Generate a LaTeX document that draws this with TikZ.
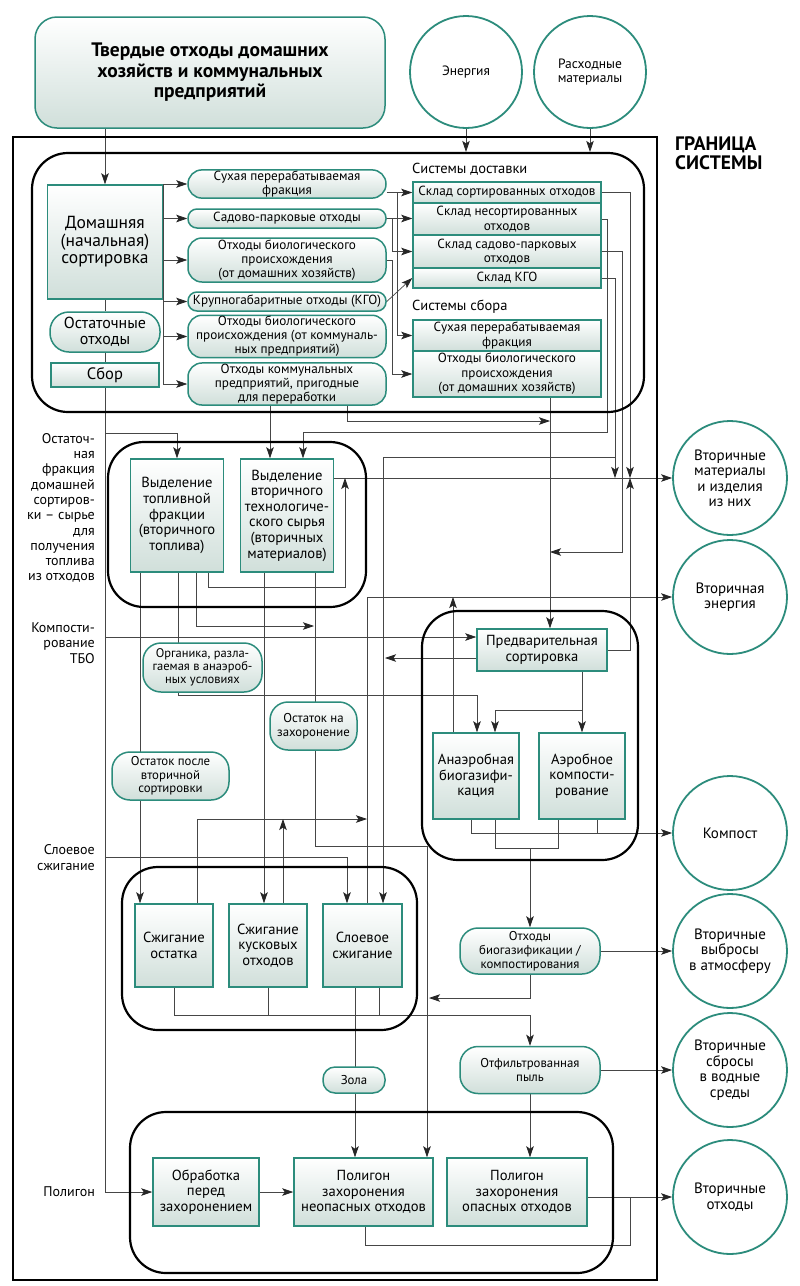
\documentclass[tikz,border=0pt]{standalone}
\usepackage{fontspec}
\setmainfont{PT Sans}
\usetikzlibrary{arrows.meta,backgrounds}
\definecolor{teal2}{RGB}{44,140,124}
\definecolor{boxgray}{RGB}{208,223,218}
\definecolor{wire}{RGB}{70,70,70}
\tikzset{
  box/.style={draw=teal2, line width=1.5pt, top color=white, bottom color=boxgray,
    align=center, inner sep=1pt, font=\fontsize{14.6}{15.6}\selectfont},
  pill/.style={box, rounded corners=14pt, font=\fontsize{13.2}{14}\selectfont},
  store/.style={box, minimum width=188pt, font=\fontsize{13.2}{14.5}\selectfont},
  outcirc/.style={circle, draw=teal2, line width=1.8pt, fill=white, minimum size=114pt,
    align=center, inner sep=0pt, font=\fontsize{15}{15.5}\selectfont},
  grp/.style={draw, line width=2.2pt, rounded corners=36pt},
  side/.style={align=right, anchor=east, inner sep=0pt, font=\fontsize{14}{15.3}\selectfont},
  line/.style={draw=wire, line width=0.7pt},
  arr/.style={line, -{Stealth[length=11pt,width=7.5pt,inset=2.5pt,color=black!85]}},
}
\begin{document}
\begin{tikzpicture}[x=1pt,y=-1pt]
  \useasboundingbox (0,0) rectangle (800,1286);
  \begin{scope}[on background layer]
    \fill[white] (0,0) rectangle (800,1286);
  \end{scope}
  % inputs
  \node[box, rounded corners=22pt, minimum width=350pt, minimum height=111pt,
    font=\fontsize{19.5}{20.5}\bfseries\selectfont] (src) at (210,72.5)
    {Твердые отходы домашних\\хозяйств и коммунальных\\предприятий};
  \node[outcirc, minimum size=112pt, font=\fontsize{13.5}{14.5}\selectfont] (energ) at (466,72) {Энергия};
  \node[outcirc, minimum size=112pt, font=\fontsize{13.5}{14.5}\selectfont] (cons) at (590,72) {Расходные\\материалы};
  % system boundary
  \node[draw, line width=2.8pt, minimum width=644pt, minimum height=1143pt] (bound) at (335,708.5) {};
  \node[anchor=north west, align=left, inner sep=0pt,
    font=\fontsize{19.5}{19}\bfseries\selectfont] (bndlbl) at (675,136) {ГРАНИЦА\\СИСТЕМЫ};
  % groups
  \node[grp, minimum width=612pt, minimum height=259pt] (grp1) at (338,282.5) {};
  \node[grp, minimum width=258pt, minimum height=165pt] (grp2) at (237,524.5) {};
  \node[grp, minimum width=216pt, minimum height=249pt] (grp3) at (530,735.5) {};
  \node[grp, minimum width=295pt, minimum height=163pt] (grp4) at (269.5,948.5) {};
  \node[grp, minimum width=483pt, minimum height=161pt] (grp5) at (371.5,1192.5) {};
  % home sorting
  \node[box, minimum width=115pt, minimum height=114pt, font=\fontsize{17.5}{17.5}\selectfont] (dom) at (105,242)
    {Домашняя\\(начальная)\\сортировка};
  \node[box, rounded corners=19pt, minimum width=110pt, minimum height=40pt,
    font=\fontsize{16}{16.5}\selectfont] (ost) at (105,332) {Остаточные\\отходы};
  \node[box, minimum width=108pt, minimum height=24pt, font=\fontsize{16.5}{16}\selectfont] (sbor) at (105,375) {Сбор};
  \node[pill, minimum width=198pt, minimum height=28pt] (p1) at (287,184) {Сухая перерабатываемая\\фракция};
  \node[pill, rounded corners=9pt, minimum width=198pt, minimum height=19pt] (p2) at (287,218.5) {Садово-парковые отходы};
  \node[pill, minimum width=198pt, minimum height=44pt] (p3) at (287,260)
    {Отходы биологического\\происхождения\\(от домашних хозяйств)};
  \node[pill, rounded corners=9pt, minimum width=198pt, minimum height=19pt] (p4) at (287,301.5) {Крупногабаритные отходы (КГО)};
  \node[pill, minimum width=198pt, minimum height=41pt] (p5) at (287,336.5)
    {Отходы биологического\\происхождения (от коммуналь-\\ных предприятий)};
  \node[pill, minimum width=198pt, minimum height=42pt] (p6) at (287,384)
    {Отходы коммунальных\\предприятий, пригодные\\для переработки};
  % delivery and collection
  \node[anchor=west, inner sep=0pt, font=\fontsize{14.5}{15}\selectfont] (deliv) at (412,169) {Системы доставки};
  \node[store, minimum height=21pt] (s1) at (507,192.5) {Склад сортированных отходов};
  \node[store, minimum height=32pt] (s2) at (507,219) {Склад несортированных\\отходов};
  \node[store, minimum height=33pt] (s3) at (507,251.5) {Склад садово-парковых\\отходов};
  \node[store, minimum height=20pt] (s4) at (507,278) {Склад КГО};
  \node[anchor=west, inner sep=0pt, font=\fontsize{14.5}{15}\selectfont] (collect) at (412,307) {Системы сбора};
  \node[store, minimum height=31pt] (c1) at (507,335.5) {Сухая перерабатываемая\\фракция};
  \node[store, minimum height=46pt] (c2) at (507,374) {Отходы биологического\\происхождения\\(от домашних хозяйств)};
  % secondary sorting
  \node[box, minimum width=93pt, minimum height=113pt] (topl) at (177,515.5)
    {Выделение\\топливной\\фракции\\(вторичного\\топлива)};
  \node[box, minimum width=93pt, minimum height=113pt] (vtor) at (287,515.5)
    {Выделение\\вторичного\\технологиче-\\ского сырья\\(вторичных\\материалов)};
  % biological treatment
  \node[box, minimum width=130pt, minimum height=42pt] (pre) at (542,650) {Предварительная\\сортировка};
  \node[box, minimum width=86pt, minimum height=86pt] (anae) at (476,776) {Анаэробная\\биогазифи-\\кация};
  \node[box, minimum width=86pt, minimum height=86pt] (aer) at (582,776) {Аэробное\\компости-\\рование};
  % incineration
  \node[box, minimum width=78pt, minimum height=83pt] (sost) at (174,945.5) {Сжигание\\остатка};
  \node[box, minimum width=78pt, minimum height=83pt] (kus) at (268,945.5) {Сжигание\\кусковых\\отходов};
  \node[box, minimum width=79pt, minimum height=83pt] (slo) at (362.5,945.5) {Слоевое\\сжигание};
  % landfill
  \node[box, minimum width=106pt, minimum height=68pt] (obr) at (206,1192) {Обработка\\перед\\захоронением};
  \node[box, minimum width=139pt, minimum height=68pt] (neo) at (363.5,1192) {Полигон\\захоронения\\неопасных отходов};
  \node[box, minimum width=140pt, minimum height=68pt] (opa) at (517,1192) {Полигон\\захоронения\\опасных отходов};
  % outputs
  \node[outcirc] (mat) at (730,478) {Вторичные\\материалы\\и изделия\\из них};
  \node[outcirc] (en) at (730,597) {Вторичная\\энергия};
  \node[outcirc] (comp) at (730,833) {Компост};
  \node[outcirc] (atm) at (730,951) {Вторичные\\выбросы\\в атмосферу};
  \node[outcirc] (wat) at (730,1070) {Вторичные\\сбросы\\в водные\\среды};
  \node[outcirc] (waste) at (730,1197) {Вторичные\\отходы};
  % side labels
  \node[side] (lres) at (95,508) {Остаточ-\\ная\\фракция\\домашней\\сортиров-\\ки – сырье\\для\\получения\\топлива\\из отходов};
  \node[side] (lkomp) at (95,643) {Компости-\\рование\\ТБО};
  \node[side] (lslo) at (95,857.5) {Слоевое\\сжигание};
  \node[side] (lpol) at (95,1192) {Полигон};
  % junctions
  \coordinate (busT) at (105,433);
  \coordinate (busE) at (105,1192);
  \coordinate (kompIn) at (105,637);
  \coordinate (sloIn) at (105,857);
  \coordinate (xA) at (392,0);
  \coordinate (xB) at (397,0);
  \coordinate (xC) at (607,0);
  \coordinate (xD) at (615,0);
  \coordinate (xE) at (622,0);
  \coordinate (xF) at (630,0);
  \coordinate (xM) at (345,0);
  \coordinate (yV) at (0,432);
  \coordinate (yK) at (0,457);
  \coordinate (yP) at (0,552);
  \coordinate (yQ) at (0,421);
  \coordinate (c2out) at (550,397);
  \coordinate (jR) at (314,626);
  \coordinate (jO) at (178,695);
  \coordinate (jA) at (582,710);
  \coordinate (jL) at (385,658);
  \coordinate (jE1) at (367,819);
  \coordinate (jE2) at (283,819);
  \coordinate (jE3) at (453,597);
  \coordinate (jBio) at (530,848);
  \coordinate (jBd) at (429,998);
  \coordinate (jF) at (530,1015);
  \coordinate (jW) at (630,1245);
  % small stadiums on the wires
  \node[pill, rounded corners=18pt, minimum width=119pt, minimum height=49pt, font=\fontsize{12.5}{13.3}\selectfont] (org) at (202.5,667.5)
    {Органика, разла-\\гаемая в анаэроб-\\ных условиях};
  \node[pill, rounded corners=18pt, minimum width=87pt, minimum height=48pt, font=\fontsize{12.8}{13.5}\selectfont] (zah) at (313.5,726)
    {Остаток на\\захоронение};
  \node[pill, rounded corners=18pt, minimum width=117pt, minimum height=48pt, font=\fontsize{12.8}{13.5}\selectfont] (ost2) at (170.5,776)
    {Остаток после\\вторичной\\сортировки};
  \node[pill, rounded corners=18pt, minimum width=140pt, minimum height=46pt, font=\fontsize{12.8}{14}\selectfont] (bio) at (530,951)
    {Отходы\\биогазификации /\\компостирования};
  \node[pill, rounded corners=18pt, minimum width=140pt, minimum height=47pt, font=\fontsize{12.8}{14}\selectfont] (fil) at (530,1070)
    {Отфильтрованная\\пыль};
  \node[pill, rounded corners=12pt, minimum width=62pt, minimum height=26pt, font=\fontsize{12.8}{14}\selectfont] (zola) at (354,1080) {Зола};
  \begin{scope}[on background layer]
    % inputs
    \draw[arr] (energ.south) -- (energ.south |- grp1.north);
    \draw[arr] (cons.south) -- (cons.south |- grp1.north);
    \draw[arr] (dom.north |- src.south) -- (dom.north);
    \draw[line] (dom.south) -- (ost.north);
    \draw[line] (ost.south) -- (sbor.north);
    \draw[arr] (sbor.south) -- (busT) -| (topl.north);
    \draw[arr] (busT) -- (busE) -- (obr.west);
    \draw[arr] (kompIn) -- (kompIn -| pre.west);
    \draw[arr] (sloIn) -| ([xshift=-15.5]slo.north);
    % home sorting
    \draw[line] (dom.north east) -- (dom.east |- p6.west);
    \foreach \nm in {p1,p2,p3,p4,p5,p6}
      \draw[arr] (dom.east |- \nm.west) -- (\nm.west);
    % delivery and collection
    \draw[arr] (p1.east |- s1.west) -- (s1.west);
    \draw[arr] (xB |- s1.west) |- (c1.west);
    \draw[arr] (p2.east) -- (p2.east -| s2.west);
    \draw[arr] (xA |- p2.east) |- (s3.west);
    \draw[arr] (p3.east) -| (xA |- c2.west) -- (c2.west);
    \draw[arr] (p4.east) -- (s4.west);
    \draw[arr] (s1.east) -| (xF |- mat.west);
    \draw[arr] (s2.east) -| (xC |- yV) -| ([xshift=16]vtor.north);
    \draw[arr] (s3.east) -| (xE |- yP) -- (c2out |- yP);
    \draw[arr] (s4.east) -| (xD |- mat.west);
    \draw[arr] (xD |- yK) -| ([xshift=20.5]slo.north);
    \draw[arr] (c2out) -- (c2out |- pre.north);
    \draw[arr] ([xshift=60]p6.south) |- (c2out |- yQ);
    \draw[arr] ([xshift=-17]p6.south) -- ([xshift=-17]vtor.north);
    % secondary sorting
    \draw[arr] (vtor.east |- mat.west) -- (mat.west);
    \draw[arr] ([xshift=31]topl.south) -- ++(0,15) -| (xM |- mat.west);
    \draw[arr] ([xshift=19]topl.south) |- (jR);
    \draw[arr] ([xshift=-37]topl.south) -- ([xshift=-34]sost.north);
    \draw[arr] ([xshift=1]topl.south) -- (jO) -| ([xshift=1]anae.north);
    \draw[arr] ([xshift=-23]vtor.south) -- ([xshift=-4]kus.north);
    \draw[arr] ([xshift=28]vtor.south) -- ++(0,274) -| ([xshift=63.5]neo.north);
    % energy
    \draw[arr] ([xshift=23]sost.north) |- (jE1);
    \draw[arr] ([xshift=15]kus.north) -- (jE2);
    \draw[arr] ([xshift=4.5]slo.north) |- (en.west);
    \draw[arr] ([xshift=-23]anae.north) -- (jE3);
    % biological treatment
    \draw[arr] ([xshift=40]pre.south) -- (aer.north);
    \draw[arr] (jA) -| ([xshift=19]anae.north);
    \draw[arr] ([yshift=-8]pre.west) -- (jL);
    \draw[arr] (pre.east) -| (xF |- mat.west);
    \draw[arr] ([xshift=-5]anae.south) |- (comp.west);
    \draw[line] ([xshift=15]aer.south) -- ++(0,13);
    \draw[line] ([xshift=19]anae.south) -- ++(0,29) -| ([xshift=-24]aer.south);
    \draw[arr] (jBio) -- (bio.north);
    \draw[arr] (bio.east) -- (atm.west);
    \draw[arr] (bio.south) |- (jBd);
    % incineration
    \draw[arr] (sost.south) |- (jF) -- (fil.north);
    \draw[line] (kus.south) -- (kus.south |- jF);
    \draw[line] ([xshift=16.5]slo.south) -- ++(0,28);
    \draw[arr] ([xshift=-7.5]slo.south) -- ([xshift=-8.5]neo.north);
    \draw[arr] (fil.east) -- (wat.west);
    \draw[arr] (fil.south) -- ([xshift=13]opa.north);
    % landfill
    \draw[arr] (obr.east) -- (neo.west);
    \draw[line] ([xshift=1.5]neo.south) |- (jW) -- (jW |- waste.west);
    \draw[arr] (opa.east |- waste.west) -- (waste.west);
  \end{scope}
\end{tikzpicture}
\end{document}
